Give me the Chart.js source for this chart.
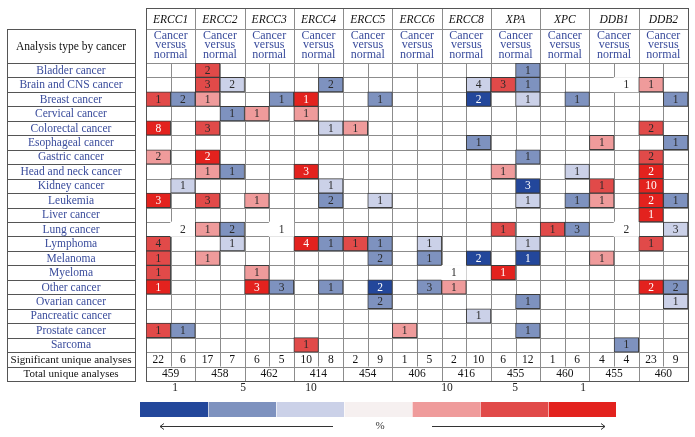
<!DOCTYPE html>
<html><head><meta charset="utf-8">
<script src="https://cdn.jsdelivr.net/npm/chart.js@4.4.0/dist/chart.umd.min.js"></script>
<style>html,body{margin:0;padding:0;background:#fff}#wrap{width:695px;height:437px}</style>
</head><body><div id="wrap"><canvas id="c" width="695" height="437"></canvas></div>
<script>
// ---------- DATA ----------
const genes = ['ERCC1','ERCC2','ERCC3','ERCC4','ERCC5','ERCC6','ERCC8','XPA','XPC','DDB1','DDB2'];
const analysisLabel = 'Cancer versus normal';
const cancers = ['Bladder cancer','Brain and CNS cancer','Breast cancer','Cervical cancer','Colorectal cancer',
  'Esophageal cancer','Gastric cancer','Head and neck cancer','Kidney cancer','Leukemia','Liver cancer',
  'Lung cancer','Lymphoma','Melanoma','Myeloma','Other cancer','Ovarian cancer','Pancreatic cancer',
  'Prostate cancer','Sarcoma'];
// per gene: [over-expressed, under-expressed] analyses
const counts = [
  [0,0, 2,0, 0,0, 0,0, 0,0, 0,0, 0,0, 0,1, 0,0, 0,0, 0,0],
  [0,0, 3,2, 0,0, 0,2, 0,0, 0,0, 0,4, 3,1, 0,0, 0,1, 1,0],
  [1,2, 1,0, 0,1, 1,0, 0,1, 0,0, 0,2, 0,1, 0,1, 0,0, 0,1],
  [0,0, 0,1, 1,0, 1,0, 0,0, 0,0, 0,0, 0,0, 0,0, 0,0, 0,0],
  [8,0, 3,0, 0,0, 0,1, 1,0, 0,0, 0,0, 0,0, 0,0, 0,0, 2,0],
  [0,0, 0,0, 0,0, 0,0, 0,0, 0,0, 0,1, 0,0, 0,0, 1,0, 0,1],
  [2,0, 2,0, 0,0, 0,0, 0,0, 0,0, 0,0, 0,1, 0,0, 0,0, 2,0],
  [0,0, 1,1, 0,0, 3,0, 0,0, 0,0, 0,0, 1,0, 0,1, 0,0, 2,0],
  [0,1, 0,0, 0,0, 0,1, 0,0, 0,0, 0,0, 0,3, 0,0, 1,0, 10,0],
  [3,0, 3,0, 1,0, 0,2, 0,1, 0,0, 0,0, 0,1, 0,1, 1,0, 2,1],
  [0,0, 0,0, 0,0, 0,0, 0,0, 0,0, 0,0, 0,0, 0,0, 0,0, 1,0],
  [0,2, 1,2, 0,1, 0,0, 0,0, 0,0, 0,0, 1,0, 1,3, 0,2, 0,3],
  [4,0, 0,1, 0,0, 4,1, 1,1, 0,1, 0,0, 0,1, 0,0, 0,0, 1,0],
  [1,0, 1,0, 0,0, 0,0, 0,2, 0,1, 0,2, 0,1, 0,0, 1,0, 0,0],
  [1,0, 0,0, 1,0, 0,0, 0,0, 0,0, 1,0, 1,0, 0,0, 0,0, 0,0],
  [1,0, 0,0, 3,3, 0,1, 0,2, 0,3, 1,0, 0,0, 0,0, 0,0, 2,2],
  [0,0, 0,0, 0,0, 0,0, 0,2, 0,0, 0,0, 0,1, 0,0, 0,0, 0,1],
  [0,0, 0,0, 0,0, 0,0, 0,0, 0,0, 0,1, 0,0, 0,0, 0,0, 0,0],
  [1,1, 0,0, 0,0, 0,0, 0,0, 1,0, 0,0, 0,1, 0,0, 0,0, 0,0],
  [0,0, 0,0, 0,0, 1,0, 0,0, 0,0, 0,0, 0,0, 0,0, 0,1, 0,0]
];
// gene rank percentile class of each cell (r = over, b = under; 1 / 5 / 10 %; w = beyond 10 %)
const levels = [
  ['','', 'r5','', '','', '','', '','', '','', '','', '','b5', '','', '','', '',''],
  ['','', 'r5','b10', '','', '','b5', '','', '','', '','b10', 'r5','b5', '','', '','w', 'r10',''],
  ['r5','b5', 'r10','', '','b5', 'r1','', '','b5', '','', '','b1', '','b10', '','b5', '','', '','b5'],
  ['','', '','b5', 'r10','', 'r10','', '','', '','', '','', '','', '','', '','', '',''],
  ['r1','', 'r5','', '','', '','b10', 'r10','', '','', '','', '','', '','', '','', 'r5',''],
  ['','', '','', '','', '','', '','', '','', '','b5', '','', '','', 'r10','', '','b5'],
  ['r10','', 'r1','', '','', '','', '','', '','', '','', '','b5', '','', '','', 'r5',''],
  ['','', 'r10','b5', '','', 'r1','', '','', '','', '','', 'r10','', '','b10', '','', 'r1',''],
  ['','b10', '','', '','', '','b10', '','', '','', '','', '','b1', '','', 'r5','', 'r1',''],
  ['r1','', 'r5','', 'r10','', '','b5', '','b10', '','', '','', '','b10', '','b5', 'r10','', 'r1','b5'],
  ['','', '','', '','', '','', '','', '','', '','', '','', '','', '','', 'r1',''],
  ['','w', 'r10','b5', '','w', '','', '','', '','', '','', 'r5','', 'r5','b5', '','w', '','b10'],
  ['r5','', '','b10', '','', 'r1','b5', 'r5','b5', '','b10', '','', '','b10', '','', '','', 'r5',''],
  ['r5','', 'r10','', '','', '','', '','b5', '','b5', '','b1', '','b1', '','', 'r10','', '',''],
  ['r5','', '','', 'r10','', '','', '','', '','', 'w','', 'r1','', '','', '','', '',''],
  ['r1','', '','', 'r1','b5', '','b5', '','b1', '','b5', 'r10','', '','', '','', '','', 'r1','b5'],
  ['','', '','', '','', '','', '','b5', '','', '','', '','b5', '','', '','', '','b10'],
  ['','', '','', '','', '','', '','', '','', '','b10', '','', '','', '','', '',''],
  ['r5','b5', '','', '','', '','', '','', 'r10','', '','', '','b5', '','', '','', '',''],
  ['','', '','', '','', 'r5','', '','', '','', '','', '','', '','', '','b5', '','']
];
const significant = [22,6, 17,7, 6,5, 10,8, 2,9, 1,5, 2,10, 6,12, 1,6, 4,4, 23,9];
const totals = [459,458,462,414,454,406,416,455,460,455,460];
const legendLevels = ['b1','b5','b10','w','r10','r5','r1'];
const legendLabels = ['1','5','10','','10','5','1'];

// ---------- STYLE ----------
const COLORS = {r1:'#e3221e', r5:'#e14a49', r10:'#ef9b9b', w:'#ffffff', b10:'#cbd1e8', b5:'#7e92bf', b1:'#23479b'};
const LEGEND_COLORS = Object.assign({}, COLORS, {w:'#f6f0f0'});
const SERIF = '"Liberation Serif", "DejaVu Serif", serif';
const BLUE = '#3a4c9c';

const subLabels = genes.flatMap(g => [g + ' over', g + ' under']);

const datasets = cancers.map((name, r) => ({
  label: name,
  data: subLabels.map(() => 1),
  backgroundColor: levels[r].map(l => l ? COLORS[l] : 'rgba(0,0,0,0)'),
  borderColor: levels[r].map(l => (l && l !== 'w') ? '#3b3b3b' : 'rgba(0,0,0,0)'),
  borderWidth: levels[r].map(l => (l && l !== 'w') ? 1 : 0),
  borderSkipped: false,
  barPercentage: 1,
  categoryPercentage: 1,
  stack: 'grid'
}));

const tablePlugin = {
  id: 'table',
  beforeDatasetsDraw(chart) {
    const {ctx, chartArea: a, scales: {x: xs, y: ys}} = chart;
    const step = xs.getPixelForValue(1) - xs.getPixelForValue(0);
    const bx = k => xs.getPixelForValue(0) - step / 2 + k * step;
    const by = v => ys.getPixelForValue(v);
    const p = v => Math.round(v) + 0.5;
    const hTop = a.top - 55, hMid = a.top - 34;
    const nRows = cancers.length;
    ctx.save();
    ctx.lineWidth = 1;
    ctx.strokeStyle = '#8c8c8c';
    ctx.beginPath();
    for (let v = 0; v <= nRows + 2; v++) { ctx.moveTo(a.left, p(by(v))); ctx.lineTo(a.right, p(by(v))); }
    ctx.moveTo(a.left, p(hMid)); ctx.lineTo(a.right, p(hMid));
    for (let k = 0; k <= subLabels.length; k++) {
      const X = p(bx(k));
      if (k % 2 === 0) { ctx.moveTo(X, hTop); ctx.lineTo(X, by(nRows + 2)); }
      else { ctx.moveTo(X, by(0)); ctx.lineTo(X, by(nRows + 1)); }
    }
    ctx.stroke();
    ctx.strokeStyle = '#555';
    ctx.strokeRect(p(bx(0)), p(hTop), Math.round(bx(subLabels.length) - bx(0)), Math.round(by(nRows + 2) - hTop));
    const L = 7, R = 135;
    ctx.beginPath();
    ctx.moveTo(L, p(hMid)); ctx.lineTo(R, p(hMid));
    for (let v = 0; v <= nRows + 2; v++) { ctx.moveTo(L, p(by(v))); ctx.lineTo(R, p(by(v))); }
    ctx.stroke();
    ctx.strokeRect(L + 0.5, p(hMid), R - L, Math.round(by(nRows + 2) - hMid));
    ctx.restore();
  },
  afterDatasetsDraw(chart) {
    const {ctx, chartArea: a, scales: {x: xs, y: ys}} = chart;
    const by = v => ys.getPixelForValue(v);
    const hTop = a.top - 55, hMid = a.top - 34;
    const nRows = cancers.length;
    ctx.save();
    ctx.textAlign = 'center';
    ctx.textBaseline = 'middle';
    ctx.font = '11.5px ' + SERIF;
    chart.data.datasets.forEach((ds, r) => {
      chart.getDatasetMeta(r).data.forEach((el, i) => {
        const n = counts[r][i];
        if (!n) return;
        const lv = levels[r][i];
        ctx.fillStyle = (lv === 'r1' || lv === 'b1') ? '#ffffff' : '#2a2a2a';
        ctx.fillText(String(n), el.x, (el.y + el.base) / 2 + 0.5);
      });
    });
    genes.forEach((g, gi) => {
      const cx = (xs.getPixelForValue(2 * gi) + xs.getPixelForValue(2 * gi + 1)) / 2;
      ctx.fillStyle = '#111';
      ctx.font = 'italic 11.5px ' + SERIF;
      ctx.fillText(g, cx, (hTop + hMid) / 2 + 1);
      ctx.fillStyle = BLUE;
      ctx.font = '12px ' + SERIF;
      analysisLabel.split(' ').forEach((w, wi) => ctx.fillText(w, cx, hMid + 6.5 + wi * 9.5));
      ctx.fillStyle = '#111';
      ctx.font = '11.5px ' + SERIF;
      ctx.fillText(String(totals[gi]), cx, (by(nRows + 1) + by(nRows + 2)) / 2 + 0.5);
    });
    significant.forEach((s, i) => {
      ctx.fillStyle = '#111';
      ctx.fillText(String(s), xs.getPixelForValue(i), (by(nRows) + by(nRows + 1)) / 2 + 0.5);
    });
    const LC = 71;
    ctx.font = '11.5px ' + SERIF;
    ctx.fillStyle = '#111';
    ctx.fillText('Analysis type by cancer', LC, (hMid + a.top) / 2 + 1);
    ctx.fillStyle = BLUE;
    cancers.forEach((c, r) => ctx.fillText(c, LC, (by(r) + by(r + 1)) / 2 + 0.5));
    ctx.fillStyle = '#111';
    ctx.font = '11px ' + SERIF;
    ctx.fillText('Significant unique analyses', LC, (by(nRows) + by(nRows + 1)) / 2 + 0.5);
    ctx.fillText('Total unique analyses', LC, (by(nRows + 1) + by(nRows + 2)) / 2 + 0.5);

    const lx0 = 140, lx1 = 616, ly0 = 402, ly1 = 417;
    const bw = (lx1 - lx0) / legendLevels.length;
    legendLevels.forEach((lv, i) => {
      ctx.fillStyle = LEGEND_COLORS[lv];
      ctx.fillRect(lx0 + i * bw, ly0, bw, ly1 - ly0);
      ctx.fillStyle = '#222';
      ctx.font = '11.5px ' + SERIF;
      if (legendLabels[i]) ctx.fillText(legendLabels[i], lx0 + (i + 0.5) * bw + 1, 388);
    });
    ctx.strokeStyle = 'rgba(255,255,255,0.6)';
    ctx.lineWidth = 1;
    ctx.beginPath();
    for (let i = 1; i < legendLevels.length; i++) { const X = Math.round(lx0 + i * bw) + 0.5; ctx.moveTo(X, ly0); ctx.lineTo(X, ly1); }
    ctx.stroke();
    const ay = 426.5;
    ctx.strokeStyle = '#333';
    ctx.beginPath();
    ctx.moveTo(333, ay); ctx.lineTo(160, ay);
    ctx.moveTo(164, ay - 3); ctx.lineTo(160, ay); ctx.lineTo(164, ay + 3);
    ctx.moveTo(432, ay); ctx.lineTo(605, ay);
    ctx.moveTo(601, ay - 3); ctx.lineTo(605, ay); ctx.lineTo(601, ay + 3);
    ctx.stroke();
    ctx.fillStyle = '#333';
    ctx.font = '11px ' + SERIF;
    ctx.fillText('%', 380, ay);
    ctx.restore();
  }
};

new Chart(document.getElementById('c'), {
  type: 'bar',
  data: {labels: subLabels, datasets},
  options: {
    responsive: false,
    animation: false,
    events: [],
    layout: {padding: {left: 146, right: 7, top: 63, bottom: 56}},
    scales: {
      x: {type: 'category', stacked: true, display: false, offset: true},
      y: {type: 'linear', stacked: true, display: false, reverse: true, min: 0, max: 22}
    },
    plugins: {legend: {display: false}, tooltip: {enabled: false}}
  },
  plugins: [tablePlugin]
});
</script>
</body></html>
